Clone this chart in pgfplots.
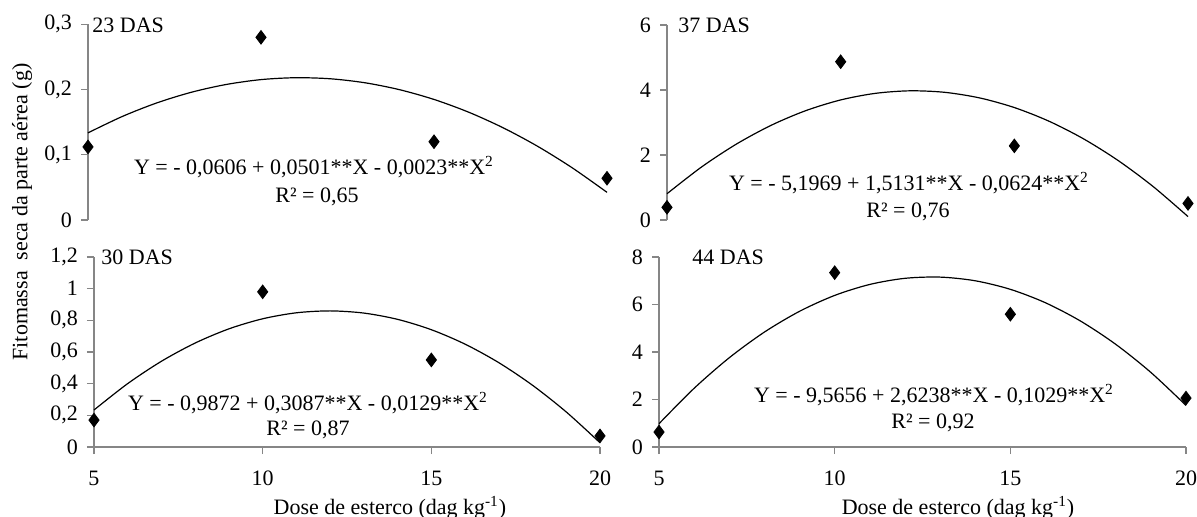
\documentclass[border=0pt]{standalone}
\usepackage{fontspec}
\setmainfont{Liberation Serif}
\usepackage{pgfplots}
\pgfplotsset{compat=1.18}
\definecolor{axgray}{HTML}{868686}
\newcommand{\cf}{\fontsize{11}{13}\selectfont}

\pgfplotsset{
  panel/.style={
    scale only axis, enlargelimits=false, clip=false,
    anchor=south west,
    xmin=5, xmax=20, xtick={5,10,15,20},
    tick align=outside, major tick length=3.5pt,
    tick style={axgray, line width=0.6pt},
    axis line style={axgray, line width=0.6pt},
    tick label style={font=\cf, black},
    xticklabel style={yshift=-5pt},
    yticklabel style={xshift=-1pt},
    /pgf/number format/.cd, use comma, fixed, assume math mode=true, /pgfplots/.cd,
  },
  toppanel/.style={panel, axis y line*=left, axis x line=none},
  botpanel/.style={panel, axis lines*=left},
  pts/.style={only marks, mark=diamond*, mark size=3.4pt, black},
  fit/.style={no marks, black, line width=0.6pt, smooth},
}

\begin{document}
\begin{tikzpicture}
\path[use as bounding box] (0,0) rectangle (598.5pt,-258.5pt);

% 23 DAS
\begin{axis}[toppanel, at={(44pt,-110pt)}, width=259.5pt, height=97.85pt,
  ymin=0, ymax=0.3, ytick={0,0.1,0.2,0.3}]
  \addplot[fit] coordinates {
    (5,0.1336) (6,0.1589) (7,0.1797) (8,0.1960) (9,0.2078) (10,0.2152)
    (11,0.2181) (12,0.2165) (13,0.2104) (14,0.1998) (15,0.1848) (16,0.1653)
    (17,0.1413) (18,0.1128) (19,0.0798) (20,0.0424)};
  \addplot[pts] coordinates {(5,0.112) (10,0.280) (15,0.120) (20,0.064)};
\end{axis}

% 37 DAS
\begin{axis}[toppanel, at={(333.5pt,-110pt)}, width=260.5pt, height=97.5pt,
  ymin=0, ymax=6, ytick={0,2,4,6}]
  \addplot[fit] coordinates {
    (5,0.8086) (6,1.6353) (7,2.3372) (8,2.9143) (9,3.3666) (10,3.6941)
    (11,3.8968) (12,3.9747) (13,3.9278) (14,3.7561) (15,3.4596) (16,3.0383)
    (17,2.4922) (18,1.8213) (19,1.0256) (20,0.1051)};
  \addplot[pts] coordinates {(5,0.39) (10,4.87) (15,2.28) (20,0.51)};
\end{axis}

% 30 DAS
\begin{axis}[botpanel, at={(47pt,-223.5pt)}, width=253pt, height=95pt,
  ymin=0, ymax=1.2, ytick={0,0.2,0.4,0.6,0.8,1,1.2}]
  \addplot[fit] coordinates {
    (5,0.2338) (6,0.4006) (7,0.5416) (8,0.6568) (9,0.7462) (10,0.8098)
    (11,0.8476) (12,0.8596) (13,0.8458) (14,0.8062) (15,0.7408) (16,0.6496)
    (17,0.5326) (18,0.3898) (19,0.2212) (20,0.0268)};
  \addplot[pts] coordinates {(5,0.17) (10,0.98) (15,0.55) (20,0.07)};
\end{axis}

% 44 DAS
\begin{axis}[botpanel, at={(329.5pt,-223.5pt)}, width=263.5pt, height=95pt,
  ymin=0, ymax=8, ytick={0,2,4,6,8}]
  \addplot[fit] coordinates {
    (5,0.9809) (6,2.4728) (7,3.7589) (8,4.8392) (9,5.7137) (10,6.3824)
    (11,6.8453) (12,7.1024) (13,7.1537) (14,6.9992) (15,6.6389) (16,6.0728)
    (17,5.3009) (18,4.3232) (19,3.1397) (20,1.7504)};
  \addplot[pts] coordinates {(5,0.63) (10,7.34) (15,5.59) (20,2.06)};
\end{axis}

% panel titles
\node[anchor=west, inner sep=0pt, font=\cf] at (46pt,-12.5pt) {23 DAS};
\node[anchor=west, inner sep=0pt, font=\cf] at (339pt,-12.5pt) {37 DAS};
\node[anchor=west, inner sep=0pt, font=\cf] at (50.5pt,-128.5pt) {30 DAS};
\node[anchor=west, inner sep=0pt, font=\cf] at (346pt,-128.5pt) {44 DAS};

% equations
\node[inner sep=0pt, font=\cf] at (157pt,-83.5pt) {Y = - 0,0606 + 0,0501**X - 0,0023**X\textsuperscript{2}};
\node[inner sep=0pt, font=\cf] at (158.5pt,-98.5pt) {R² = 0,65};
\node[inner sep=0pt, font=\cf] at (454.5pt,-91.5pt) {Y = - 5,1969 + 1,5131**X - 0,0624**X\textsuperscript{2}};
\node[inner sep=0pt, font=\cf] at (454pt,-106pt) {R² = 0,76};
\node[inner sep=0pt, font=\cf] at (154pt,-201.5pt) {Y = - 0,9872 + 0,3087**X - 0,0129**X\textsuperscript{2}};
\node[inner sep=0pt, font=\cf] at (154pt,-215pt) {R² = 0,87};
\node[inner sep=0pt, font=\cf] at (467pt,-197.5pt) {Y = - 9,5656 + 2,6238**X - 0,1029**X\textsuperscript{2}};
\node[inner sep=0pt, font=\cf] at (466.5pt,-211.5pt) {R² = 0,92};

% axis titles
\node[rotate=90, inner sep=0pt, font=\cf] at (11pt,-106pt) {Fitomassa\ \ seca da parte aérea (g)};
\node[inner sep=0pt, font=\cf] at (195pt,-254pt) {Dose de esterco (dag kg\textsuperscript{-1})};
\node[inner sep=0pt, font=\cf] at (479pt,-254pt) {Dose de esterco (dag kg\textsuperscript{-1})};
\end{tikzpicture}
\end{document}
